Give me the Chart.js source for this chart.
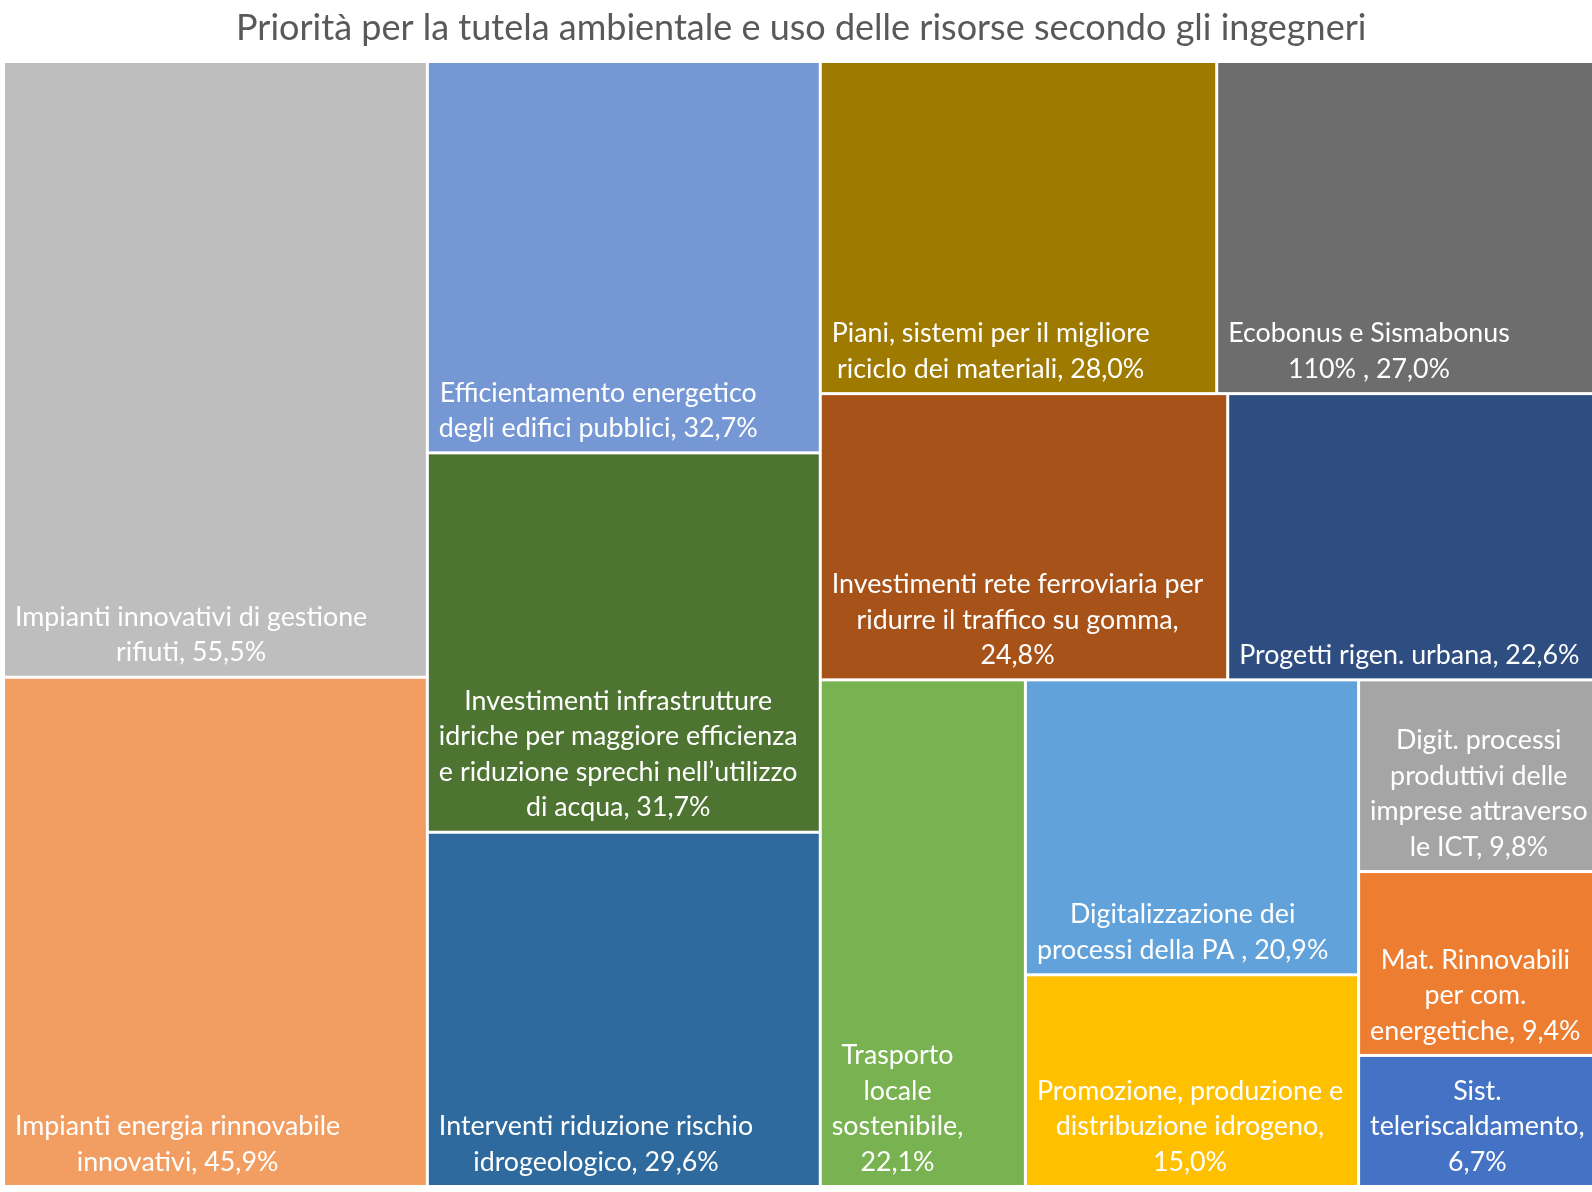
<!DOCTYPE html>
<html lang="it">
<head>
<meta charset="utf-8">
<title>Priorità per la tutela ambientale</title>
<script src="https://cdn.jsdelivr.net/npm/chart.js@4.4.1/dist/chart.umd.min.js"></script>
<style>
  html, body { margin: 0; padding: 0; background: #fff; overflow: hidden; }
  #wrap { width: 1592px; height: 1192px; overflow: hidden; }
</style>
</head>
<body>
<!-- the canvas is a little wider than the page: the original picture is cut on the right -->
<div id="wrap"><canvas id="treemap" width="1599" height="1192"></canvas></div>
<script>
"use strict";

const chartTitle = "Priorità per la tutela ambientale e uso delle risorse secondo gli ingegneri";

// multi-line category labels, broken as in the original chart
const categories = [
  ["Impianti innovativi di gestione", "rifiuti"],
  ["Impianti energia rinnovabile", "innovativi"],
  ["Efficientamento energetico", "degli edifici pubblici"],
  ["Investimenti infrastrutture", "idriche per maggiore efficienza", "e riduzione sprechi nell’utilizzo", "di acqua"],
  ["Interventi riduzione rischio", "idrogeologico"],
  ["Piani, sistemi per il migliore", "riciclo dei materiali"],
  ["Ecobonus e Sismabonus", "110% "],
  ["Investimenti rete ferroviaria per", "ridurre il traffico su gomma"],
  ["Progetti rigen. urbana"],
  ["Trasporto", "locale", "sostenibile"],
  ["Digitalizzazione dei", "processi della PA "],
  ["Promozione, produzione e", "distribuzione idrogeno"],
  ["Digit. processi", "produttivi delle", "imprese attraverso", "le ICT"],
  ["Mat. Rinnovabili", "per com.", "energetiche"],
  ["Sist.", "teleriscaldamento"],
];

const values = [55.5, 45.9, 32.7, 31.7, 29.6, 28.0, 27.0, 24.8, 22.6, 22.1, 20.9, 15.0, 9.8, 9.4, 6.7];

const colors = [
  "#bebebe", "#f29e62", "#7598d4", "#4e7431", "#2e6a9d",
  "#9e7b00", "#6d6d6d", "#a65218", "#2e4e82", "#79b351",
  "#62a2da", "#ffc000", "#a5a5a5", "#ed7d31", "#4472c4",
];

// how many cells go in each strip of the squarified layout (as Excel grouped them)
const stripSizes = [2, 3, 2, 2, 1, 2, 1, 1, 1];

const FONT = "Lato";
const LABEL_SIZE = 26.8;
const TITLE_SIZE = 36;
const LINE_H = 35.5;
const GAP = 3;
const PAD = 10;
const FIT_PAD = 11;

const formatPct = (v) => v.toFixed(1).replace(".", ",") + "%";

// squarified strips: each strip is laid along the shorter side of what is left
const layoutCells = (xs, ys) => {
  const cells = [];
  let r = { x0: 0, x1: 1, y0: 0, y1: 1 };
  let remaining = values.reduce((a, b) => a + b, 0);
  let idx = 0;
  stripSizes.forEach((n) => {
    const part = values.slice(idx, idx + n);
    const sum = part.reduce((a, b) => a + b, 0);
    const frac = sum / remaining;
    const pw = Math.abs(xs.getPixelForValue(r.x1) - xs.getPixelForValue(r.x0));
    const ph = Math.abs(ys.getPixelForValue(r.y1) - ys.getPixelForValue(r.y0));
    if (pw >= ph) {
      const xEnd = r.x0 + (r.x1 - r.x0) * frac;
      let yPos = r.y0;
      part.forEach((v) => {
        const yNext = yPos + (r.y1 - r.y0) * (v / sum);
        cells.push({ x0: r.x0, x1: xEnd, y0: yPos, y1: yNext });
        yPos = yNext;
      });
      r = { ...r, x0: xEnd };
    } else {
      const yEnd = r.y0 + (r.y1 - r.y0) * frac;
      let xPos = r.x0;
      part.forEach((v) => {
        const xNext = xPos + (r.x1 - r.x0) * (v / sum);
        cells.push({ x0: xPos, x1: xNext, y0: r.y0, y1: yEnd });
        xPos = xNext;
      });
      r = { ...r, y0: yEnd };
    }
    remaining -= sum;
    idx += n;
  });
  return cells;
};

// label lines: the value joins the last line if it fits, otherwise gets its own line
const labelLines = (ctx, i, maxW) => {
  const lines = categories[i].slice();
  const last = lines.length - 1;
  const pct = formatPct(values[i]);
  const joined = lines[last] + ", " + pct;
  if (ctx.measureText(joined).width <= maxW) {
    lines[last] = joined;
  } else {
    lines[last] += ",";
    lines.push(pct);
  }
  return lines;
};

const treemapPlugin = {
  id: "treemap",
  afterDatasetsDraw(chart) {
    const { ctx } = chart;
    const xs = chart.scales.x;
    const ys = chart.scales.y;
    const cells = layoutCells(xs, ys);
    ctx.save();
    cells.forEach((c, i) => {
      const left = xs.getPixelForValue(c.x0) + GAP / 2;
      const right = xs.getPixelForValue(c.x1) - GAP / 2;
      const top = ys.getPixelForValue(c.y0) + GAP / 2;
      const bottom = ys.getPixelForValue(c.y1) - GAP / 2;
      ctx.fillStyle = colors[i];
      ctx.fillRect(left, top, right - left, bottom - top);

      ctx.font = `${LABEL_SIZE}px ${FONT}`;
      ctx.fillStyle = "#ffffff";
      ctx.textBaseline = "middle";
      ctx.textAlign = "left";
      const w = right - left;
      const lines = labelLines(ctx, i, w - 2 * FIT_PAD);
      const widths = lines.map((l) => ctx.measureText(l).width);
      const blockW = Math.max(...widths);
      const bx = left + Math.min(PAD, (w - blockW) / 2);
      const lastY = bottom - 23;
      lines.forEach((l, k) => {
        const ly = lastY - (lines.length - 1 - k) * LINE_H;
        ctx.fillText(l, bx + (blockW - widths[k]) / 2, ly);
      });
    });
    ctx.restore();
  },
};

const drawChart = () => {
  const container = document.getElementById("treemap");
  new Chart(container, {
    type: "scatter",
    data: {
      datasets: [{ label: "celle", data: [] }],
    },
    options: {
      responsive: false,
      animation: false,
      layout: {
        padding: { left: 3.5, right: 0, top: 0, bottom: 5.5 },
      },
      scales: {
        x: { type: "linear", min: 0, max: 1, display: false },
        y: { type: "linear", min: 0, max: 1, reverse: true, display: false },
      },
      plugins: {
        legend: { display: false },
        tooltip: { enabled: false },
        title: {
          display: true,
          text: chartTitle,
          color: "#595959",
          font: { family: FONT, size: TITLE_SIZE, weight: "normal" },
          padding: { top: 7, bottom: 11.3 },
        },
      },
    },
    plugins: [treemapPlugin],
  });
};

document.addEventListener("DOMContentLoaded", () => {
  Promise.all([
    document.fonts.load(`${LABEL_SIZE}px ${FONT}`),
    document.fonts.load(`${TITLE_SIZE}px ${FONT}`),
  ]).then(drawChart, drawChart);
});
</script>
</body>
</html>
